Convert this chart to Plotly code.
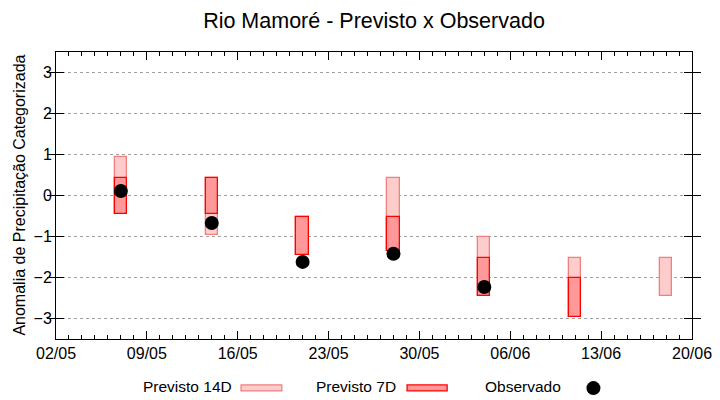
import plotly.graph_objects as go

dates = ["2024-05-07", "2024-05-14", "2024-05-21", "2024-05-28",
         "2024-06-04", "2024-06-11", "2024-06-18"]
p14_low = [-0.45, -0.96, -1.45, -1.35, -2.45, -2.96, -2.45]
p14_high = [0.95, 0.43, -0.52, 0.43, -1.01, -1.52, -1.52]
p7_low = [-0.45, -0.45, -1.45, -1.35, -2.45, -2.96, None]
p7_high = [0.43, 0.43, -0.52, -0.52, -1.52, -2.00, None]
obs = [0.11, -0.67, -1.62, -1.42, -2.23, None, None]

x_ticks = ["2024-05-02", "2024-05-09", "2024-05-16", "2024-05-23",
           "2024-05-30", "2024-06-06", "2024-06-13", "2024-06-20"]
y_ticks = [-3, -2, -1, 0, 1, 2, 3]

DAY = 86400000
FONT = "Liberation Sans, Arial, sans-serif"

def spans(lo, hi):
    xs, bs, hs = [], [], []
    for d, a, b in zip(dates, lo, hi):
        if a is None or b is None:
            continue
        xs.append(d)
        bs.append(a)
        hs.append(b - a)
    return xs, bs, hs

fig = go.Figure()
x14, b14, h14 = spans(p14_low, p14_high)
fig.add_trace(go.Bar(x=x14, y=h14, base=b14, width=0.95 * DAY,
                     marker=dict(color="#ffcccc", line=dict(color="#f08080", width=1.3)),
                     showlegend=False))
x7, b7, h7 = spans(p7_low, p7_high)
fig.add_trace(go.Bar(x=x7, y=h7, base=b7, width=0.95 * DAY,
                     marker=dict(color="#ff9999", line=dict(color="#ff0000", width=1.3)),
                     showlegend=False))
ox = [d for d, v in zip(dates, obs) if v is not None]
oy = [v for v in obs if v is not None]
fig.add_trace(go.Scatter(x=ox, y=oy, mode="markers",
                         marker=dict(color="black", size=14, line=dict(width=0)),
                         showlegend=False))
# invisible helper trace so the mirrored top axis (with daily minor ticks) is drawn
fig.add_trace(go.Scatter(x=[x_ticks[0]], y=[0], xaxis="x2", mode="markers",
                         marker=dict(opacity=0), showlegend=False, hoverinfo="skip"))

fig.update_layout(
    width=720, height=400,
    margin=dict(l=56, r=28, t=52, b=61),
    paper_bgcolor="white", plot_bgcolor="white",
    barmode="overlay", bargap=0,
    font=dict(family=FONT, size=16, color="black"),
    title=dict(text="Rio Mamoré - Previsto x Observado", xref="paper", x=0.5, xanchor="center",
               yref="container", y=0.95, yanchor="middle", font=dict(size=21.5)),
    xaxis2=dict(type="date", overlaying="x", side="top", matches="x",
                range=[x_ticks[0], x_ticks[-1]], tickvals=x_ticks, showticklabels=False,
                ticks="inside", ticklen=8, tickcolor="black", showgrid=False, zeroline=False,
                showline=False, automargin=False,
                minor=dict(dtick=DAY, tick0=x_ticks[0], ticks="inside", ticklen=4,
                           tickcolor="black", showgrid=False)),
)
fig.layout.xaxis.update(type="date", range=[x_ticks[0], x_ticks[-1]],
    tickvals=x_ticks, tickformat="%d/%m",
    ticks="inside", ticklen=8, tickcolor="black",
    showline=True, linecolor="black", linewidth=1, mirror=True,
    showgrid=False, zeroline=False, automargin=False,
    minor=dict(dtick=DAY, tick0=x_ticks[0], ticks="inside", ticklen=4, tickcolor="black", showgrid=False),
    tickfont=dict(size=16))
fig.update_yaxes(
    range=[-3.5, 3.5], tickvals=y_ticks,
    ticks="inside", ticklen=8, tickcolor="black",
    showline=True, linecolor="black", linewidth=1, mirror="allticks",
    showgrid=True, gridcolor="#a0a0a0", griddash="dot", gridwidth=1,
    zeroline=False, automargin=False, tickfont=dict(size=16),
)

fig.add_annotation(text="Anomalia de Precipitação Categorizada", xref="paper", yref="paper",
                   x=-0.058, y=0.5, xanchor="center", yanchor="middle", textangle=-90,
                   showarrow=False, font=dict(size=16))

# legend (gnuplot style: text then sample)
leg_y = -0.164
fig.add_annotation(text="Previsto 14D", xref="paper", yref="paper", x=0.280, y=leg_y,
                   xanchor="right", yanchor="middle", showarrow=False, font=dict(size=15.5))
fig.add_shape(type="rect", xref="paper", yref="paper", x0=0.291, x1=0.355, y0=-0.181, y1=-0.160,
              fillcolor="#ffcccc", line=dict(color="#f08080", width=1.3))
fig.add_annotation(text="Previsto 7D", xref="paper", yref="paper", x=0.538, y=leg_y,
                   xanchor="right", yanchor="middle", showarrow=False, font=dict(size=15.5))
fig.add_shape(type="rect", xref="paper", yref="paper", x0=0.552, x1=0.615, y0=-0.181, y1=-0.160,
              fillcolor="#ff9999", line=dict(color="#ff0000", width=1.3))
fig.add_annotation(text="Observado", xref="paper", yref="paper", x=0.797, y=leg_y,
                   xanchor="right", yanchor="middle", showarrow=False, font=dict(size=15.5))
fig.add_shape(type="circle", xref="paper", yref="paper", xsizemode="pixel", ysizemode="pixel",
              xanchor=0.845, yanchor=-0.171, x0=-7, x1=7, y0=-7, y1=7,
              fillcolor="black", line=dict(width=0))

fig.write_html("out.html", config={"displayModeBar": False},
               post_script="document.body.style.margin='0';document.body.style.overflow='hidden';")
